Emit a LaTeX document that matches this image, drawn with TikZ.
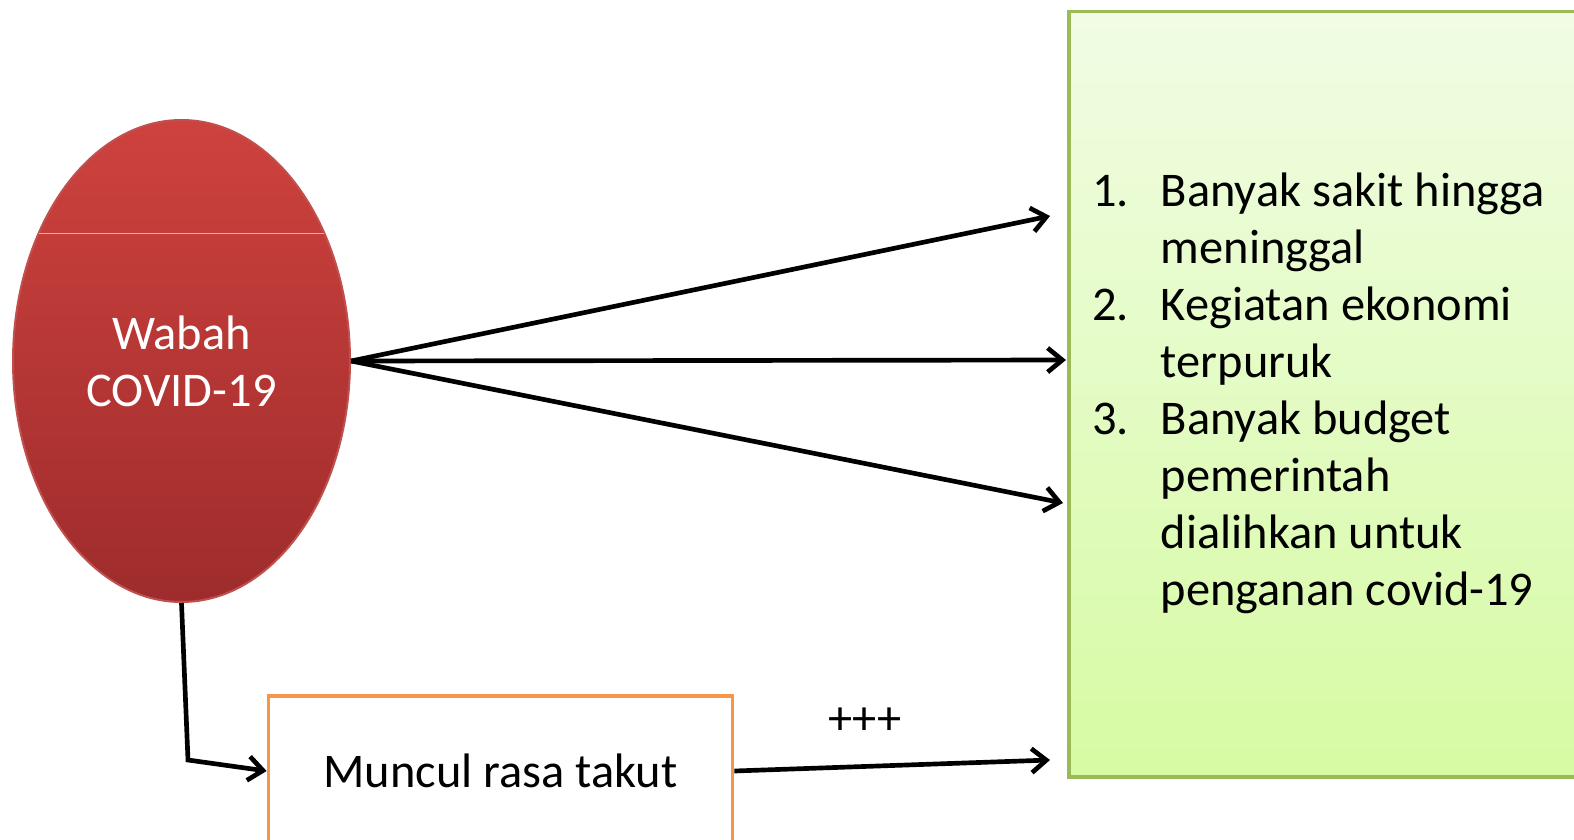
\documentclass[tikz,border=0pt]{standalone}
\definecolor{covidtop}{RGB}{206,66,62}
\definecolor{covidbottom}{RGB}{158,44,44}
\definecolor{covidborder}{RGB}{192,80,77}
\definecolor{covidline}{RGB}{240,170,165}
\definecolor{listtop}{RGB}{241,252,228}
\definecolor{listbottom}{RGB}{214,251,163}
\definecolor{listborder}{RGB}{155,187,89}
\definecolor{fearorange}{RGB}{247,150,70}
\usepackage{fontspec}
\setmainfont{Carlito}
\usepackage{tikz}
\usetikzlibrary{shapes,arrows.meta,positioning,calc}
\tikzset{link/.style={line width=3.5pt, -{Straight Barb[length=11pt,width=18pt,line width=3.5pt]}}}

\begin{document}
\begin{tikzpicture}[x=0.75pt, y=-0.75pt, font=\fontsize{36.3pt}{42.75pt}\selectfont]
                    \useasboundingbox (0,0) rectangle (1574,839);
                    \node[draw=listborder, line width=2.8pt, top color=listtop, bottom color=listbottom, minimum width=405pt, minimum height=574pt, anchor=north west] (list) at (1067,9.5) {};
                    \node[anchor=north west, inner sep=0pt] (items) at (1092,166) {\begin{tabular}{@{}p{51.5pt}@{}l@{}}
                        1. & Banyak sakit hingga\\
                           & meninggal\\
                        2. & Kegiatan ekonomi\\
                           & terpuruk\\
                        3. & Banyak budget\\
                           & pemerintah\\
                           & dialihkan untuk\\
                           & penganan covid-19
                    \end{tabular}};
                    \node[ellipse, draw=covidborder, line width=1.5pt, top color=covidtop, bottom color=covidbottom, minimum width=252.75pt, minimum height=361.5pt, inner sep=0pt, text=white, align=center] (covid) at (181.5,361) {Wabah\\COVID-19};
                    \draw[covidline, line width=0.75pt] (39,233) -- (324,233);
                    \node[draw=fearorange, line width=2.8pt, fill=white, minimum width=348pt, minimum height=112pt] (fear) at (500.5,771) {Muncul rasa takut};
                    \node (plus) at (865,721) {+++};
                    \coordinate (t1) at (1050,216);
                    \coordinate (t2) at (1066,360);
                    \coordinate (t3) at (1063,503);
                    \coordinate (t4) at (1050,760);
                    \coordinate (bend) at (188,760);
                    \draw[link] (covid.east) -- (t1);
                    \draw[link] (covid.east) -- (t2);
                    \draw[link] (covid.east) -- (t3);
                    \draw[link] (covid.south) -- (bend) -- (fear.west);
                    \draw[link] (fear.east) -- (t4);
                \end{tikzpicture}
\end{document}
